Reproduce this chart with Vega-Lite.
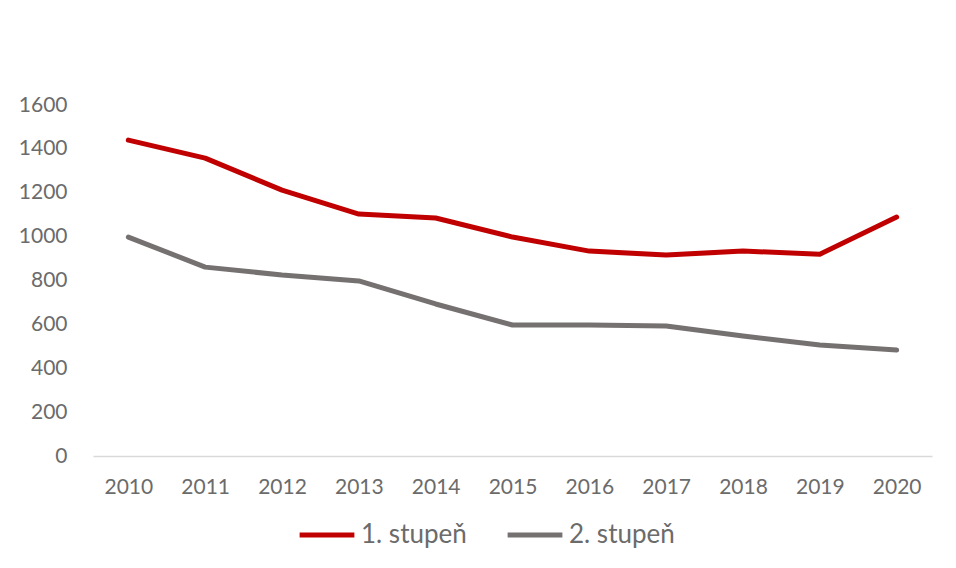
{
  "$schema": "https://vega.github.io/schema/vega-lite/v6.json",
  "width": 839,
  "height": 351,
  "autosize": {"type": "none"},
  "padding": {"left": 93, "top": 105, "right": 24, "bottom": 112},
  "background": "white",
  "config": {
    "view": {"stroke": null},
    "font": "Lato",
    "axis": {"labelFont": "Lato", "labelColor": "#6b6b6b", "labelFontSize": 21, "grid": false, "ticks": false, "title": null},
    "legend": {"labelFont": "Lato", "labelColor": "#6b6b6b", "labelFontSize": 26}
  },
  "data": {
    "values": [
      {"rok": "2010", "serie": "1. stupeň", "pocet": 1440},
      {"rok": "2011", "serie": "1. stupeň", "pocet": 1358},
      {"rok": "2012", "serie": "1. stupeň", "pocet": 1212},
      {"rok": "2013", "serie": "1. stupeň", "pocet": 1103},
      {"rok": "2014", "serie": "1. stupeň", "pocet": 1085},
      {"rok": "2015", "serie": "1. stupeň", "pocet": 998},
      {"rok": "2016", "serie": "1. stupeň", "pocet": 934},
      {"rok": "2017", "serie": "1. stupeň", "pocet": 916},
      {"rok": "2018", "serie": "1. stupeň", "pocet": 934},
      {"rok": "2019", "serie": "1. stupeň", "pocet": 920},
      {"rok": "2020", "serie": "1. stupeň", "pocet": 1089},
      {"rok": "2010", "serie": "2. stupeň", "pocet": 998},
      {"rok": "2011", "serie": "2. stupeň", "pocet": 861},
      {"rok": "2012", "serie": "2. stupeň", "pocet": 825},
      {"rok": "2013", "serie": "2. stupeň", "pocet": 798},
      {"rok": "2014", "serie": "2. stupeň", "pocet": 693},
      {"rok": "2015", "serie": "2. stupeň", "pocet": 597},
      {"rok": "2016", "serie": "2. stupeň", "pocet": 597},
      {"rok": "2017", "serie": "2. stupeň", "pocet": 593},
      {"rok": "2018", "serie": "2. stupeň", "pocet": 547},
      {"rok": "2019", "serie": "2. stupeň", "pocet": 506},
      {"rok": "2020", "serie": "2. stupeň", "pocet": 483}
    ]
  },
  "mark": {"type": "line", "strokeWidth": 5, "strokeCap": "round", "strokeJoin": "round"},
  "encoding": {
    "x": {
      "field": "rok", "type": "ordinal",
      "scale": {"type": "point", "padding": 0.46},
      "axis": {"labelAngle": 0, "domainColor": "#d9d9d9", "domainWidth": 1.5, "labelPadding": 20}
    },
    "y": {
      "field": "pocet", "type": "quantitative",
      "scale": {"domain": [0, 1600]},
      "axis": {"values": [0, 200, 400, 600, 800, 1000, 1200, 1400, 1600], "format": "d", "domain": false, "labelPadding": 26}
    },
    "color": {
      "field": "serie", "type": "nominal",
      "scale": {"domain": ["1. stupeň", "2. stupeň"], "range": ["#c00000", "#767171"]},
      "legend": {
        "title": null, "orient": "none", "direction": "horizontal",
        "legendX": 204, "legendY": 400,
        "symbolType": "stroke", "symbolSize": 3000, "symbolStrokeWidth": 5,
        "labelOffset": 4, "columnPadding": 30
      }
    }
  }
}
